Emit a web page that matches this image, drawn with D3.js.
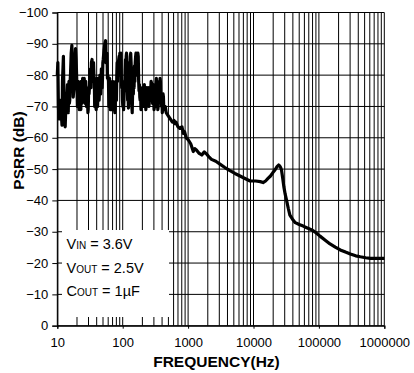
<!DOCTYPE html>
<html><head><meta charset="utf-8">
<script src="https://cdn.jsdelivr.net/npm/d3@7"></script>
<style>
body{margin:0;background:#fff;}
text{font-family:Arial,"Liberation Sans",sans-serif;fill:#000;}
</style></head>
<body><svg id="c" width="414" height="373"></svg>
<script>
// Frequency (Hz) samples of the measured curve
const freq = [
10,10.2,10.4,10.6,10.9,11.2,11.5,11.8,12.0,12.4,12.6,12.9,13.2,
13.6,13.9,14.1,14.3,14.5,14.7,14.9,15.1,15.3,15.5,15.7,15.9,
16.3,16.7,17.1,17.5,18.0,18.5,19.0,19.4,
20.0,20.3,20.6,20.9,21.1,21.4,21.6,21.9,22.2,22.6,22.9,23.2,23.4,23.7,24.0,24.4,24.7,25.0,25.4,25.8,26.1,26.5,26.8,27.2,27.5,27.9,28.3,28.6,29.0,29.4,29.7,30.2,30.6,
31.4,32.2,32.7,33.2,34.0,34.5,35.0,35.8,36.3,
36.8,37.3,37.8,38.3,38.8,39.3,39.8,40.2,40.7,41.3,41.9,42.5,43.1,43.6,44.2,44.8,45.4,46.0,46.6,47.2,47.9,48.5,49.1,49.7,50.4,
51.8,53.3,54.8,55.5,56.2,57.6,58.4,59.2,
60.6,61.4,62.3,63.1,64.0,64.8,65.7,66.5,67.4,68.3,69.3,70.2,71.1,72.1,73.1,74.0,75.0,76.0,77.0,78.0,79.1,80.2,81.3,82.3,83.4,84.5,85.6,
88.1,89.2,90.4,91.6,92.8,94.0,95.2,96.5,97.7,99.1,100.5,101.8,103.2,104.5,105.9,107.3,108.8,110.3,111.8,113.1,114.4,116.0,117.5,119.1,120.7,122.3,124.0,125.7,127.4,129.1,130.8,132.6,134.5,136.3,138.1,139.8,141.6,143.5,145.4,147.4,149.4,151.4,153.4,155.5,157.7,159.6,161.6,163.9,166.2,168.4,170.6,173.0,175.4,177.7,180.1,182.5,
185.0,187.5,190.1,192.6,195.1,197.8,200.4,203.1,205.8,208.6,211.4,214.2,217.0,220.0,222.9,225.8,228.8,232.0,235.0,238.1,241.3,244.5,247.8,251.1,254.5,258.0,261.4,264.7,268.1,271.8,275.4,279.1,282.8,286.6,290.4,294.2,297.9,301.8,305.8,310.0,314.2,318.4,322.7,326.8,330.9,335.4,339.8,344.4,349.0,353.7,358.4,363.0,367.6,372.5,377.4,382.5,387.7,393.0,398.2,403.3,408.5,414.0,419.5,425.1,430.8,
446.6,463,480,497,515,534,575,610,631,652,700,750,805,845,880,935,1010,1100,1200,1270,1340,1480,1620,1770,1920,2100,2280,2650,3070,3650,4370,5200,6220,7400,8870,10800,12700,14000,15300,16800,18200,19800,21400,22900,24200,25200,26000,26800,28000,29100,30500,32000,34000,36000,39500,43500,50000,57500,66500,77700,90000,104000,125000,148000,178000,212000,255000,302000,365000,430000,520000,613000,800000,1000000];
// PSRR (dB) at each frequency
const psrr = [
-80,-84,-70,-66,-72,-66,-68,-64,-78,-86,-75,-66,-63.5,
-72,-68,-74,-77,-70,-68,-75,-78,-71,-72,-78,-80,
-87,-89.5,-82,-73,-76,-84,-88.5,-85,
-76,-70,-72,-78,-76,-70,-69,-77,-74,-70,-69,-78,-77,-71,-73,-79,-78,-72,-75,-79,-77,-71,-73,-78,-76,-70,-71,-75,-72,-68,-69,-76,-74,
-78,-82,-76,-84,-85,-78,-80,-84,-80,
-78,-70,-73,-77,-70,-69,-74,-79,-76,-70,-74,-79,-78,-72,-75,-80,-80,-74,-77,-82,-82,-76,-79,-84,-85,
-88,-90,-91,-84,-86,-87,-79,-80,
-78,-70,-75,-79,-73,-69,-69,-76,-74,-69,-71,-78,-76,-69,-70,-75,-69,-68,-72,-78,-76,-72,-80,-84,-78,-80,-84,
-86,-80,-87,-81,-84,-87,-80,-76,-78,-72,-70,-75,-69,-72,-78,-75,-81,-85,-80,-86,-87,-83,-76,-72,-75,-69.5,-72,-79,-84,-80,-86,-87,-84,-79,-70,-68,-74,-77.5,-74,-79,-76,-83,-78,-84,-86,-87,-83,-87,-86,-80,-87,-86,-78,-75,-77,-73,
-72,-76,-69,-73,-74,-70,-71,-76,-75,-70,-72,-77,-70,-74,-73,-69,-71,-76,-75,-71,-72,-76,-74,-70,-71,-76,-74,-72,-75.5,-78,-77.5,-72,-75,-71,-73,-77,-72,-69,-70,-76,-74,-71,-77,-79,-75,-70,-72,-69,-70,-75,-74,-78,-77,-79,-78,-73,-74,-70,-72,-68,-70,-74,-73,-69,-69,
-70,-68,-67.5,-67,-66.5,-66,-65,-65.5,-64.5,-65,-63.5,-63,-63.5,-61.4,-62,-60,-59.3,-58,-55.6,-56.5,-56.1,-55,-54.5,-55.5,-54.8,-53.8,-53.1,-52.5,-51.6,-50.5,-49.5,-48.6,-47.8,-47,-46.2,-46.2,-46,-45.7,-46.2,-47.1,-47.8,-48.9,-49.8,-50.8,-51.3,-51,-50.5,-49.7,-47,-44.4,-42,-40.1,-37.5,-35.3,-34,-32.9,-32.3,-31.8,-31.2,-30.6,-29.7,-28.6,-27.3,-26.1,-25.1,-24.2,-23.5,-22.9,-22.3,-22,-21.7,-21.5,-21.5,-21.5];
const yTicks = [0,-10,-20,-30,-40,-50,-60,-70,-80,-90,-100];
const xTicks = [10,100,1000,10000,100000,1000000];
const notes = [["V","IN"," = 3.6V"],["V","OUT"," = 2.5V"],["C","OUT"," = 1µF"]];

const svg = d3.select("#c");
const L = 57.3, R = 384.3, T = 12.5, B = 325.7;
const x = d3.scaleLog().domain([10,1e6]).range([L,R]);
const y = d3.scaleLinear().domain([0,-100]).range([B,T]);

svg.append("rect").attr("width",414).attr("height",373).attr("fill","#fff");

// minor + major vertical grid
const vlines = [];
for (let d = 10; d < 1e6; d *= 10) for (let k = 1; k <= 9; k++) vlines.push(d*k);
vlines.push(1e6);
svg.append("g").selectAll("line").data(vlines).join("line")
  .attr("x1",d=>x(d)).attr("x2",d=>x(d)).attr("y1",T).attr("y2",B)
  .attr("stroke","#000").attr("stroke-width",1);
svg.append("g").selectAll("line").data(yTicks).join("line")
  .attr("x1",L).attr("x2",R).attr("y1",d=>y(d)).attr("y2",d=>y(d))
  .attr("stroke","#000").attr("stroke-width",1);

// annotation box
svg.append("rect").attr("x",62).attr("y",230).attr("width",107).attr("height",87).attr("fill","#fff");

// axes
const ya = svg.append("g").attr("transform",`translate(${L},0)`)
  .call(d3.axisLeft(y).tickValues(yTicks).tickSize(5).tickPadding(4).tickFormat(d3.format("d")));
const xa = svg.append("g").attr("transform",`translate(0,${B})`)
  .call(d3.axisBottom(x).tickValues(xTicks).tickSize(3).tickPadding(9).tickFormat(d=>String(d)));
[ya,xa].forEach(g=>{
  g.select(".domain").attr("stroke","#000").attr("stroke-width",1.2);
  g.selectAll(".tick line").attr("stroke","#000");
  g.selectAll("text").attr("font-size","13px").attr("font-family","Arial,'Liberation Sans',sans-serif").attr("fill","#000");
});

// curve
const n = Math.min(freq.length, psrr.length);
const pts = freq.slice(0,n).map((f,i)=>[f,psrr[i]]);
svg.append("path").datum(pts)
  .attr("fill","none").attr("stroke","#000").attr("stroke-width",3.2).attr("stroke-linejoin","round")
  .attr("d",d3.line().x(d=>x(d[0])).y(d=>y(d[1])));

// annotation text
const nt = svg.append("g");
notes.forEach((nn,i)=>{
  const t = nt.append("text").attr("x",66.5).attr("y",[249,273,296][i]).attr("font-size","14.5px");
  t.append("tspan").text(nn[0]);
  t.append("tspan").attr("font-size","10px").text(nn[1]);
  t.append("tspan").text(nn[2]);
});

// titles
svg.append("text").attr("x",216.5).attr("y",366.5).attr("text-anchor","middle")
  .attr("font-size","15.5px").attr("font-weight","bold").text("FREQUENCY(Hz)");
svg.append("text").attr("transform","translate(24,150.5) rotate(-90)").attr("text-anchor","middle")
  .attr("font-size","15.5px").attr("font-weight","bold").text("PSRR (dB)");
</script></body></html>
